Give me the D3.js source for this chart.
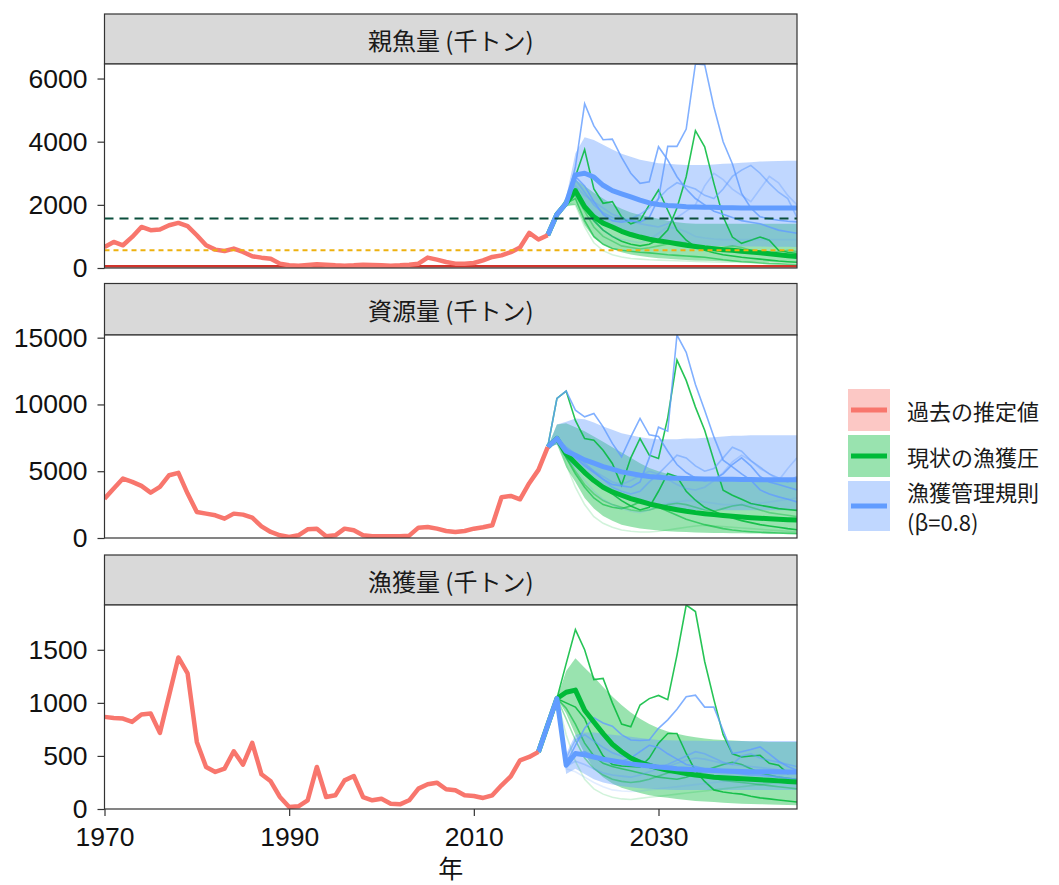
<!DOCTYPE html>
<html><head><meta charset="utf-8">
<script src="https://cdn.jsdelivr.net/npm/d3@7"></script>
<style>body{margin:0;background:#fff}svg{display:block}</style>
</head><body>
<svg id="chart" width="1059" height="885"></svg>
<script>
// ---------------- DATA ----------------
const xDomain = [1970, 2045];
const xTicks = [1970, 1990, 2010, 2030];
const panelTitles = ["親魚量 (千トン)", "資源量 (千トン)", "漁獲量 (千トン)"];
const yTicks1 = [0, 2000, 4000, 6000];
const yTicks2 = [0, 5000, 10000, 15000];
const yTicks3 = [0, 500, 1000, 1500];
const xTitle = "年";
const legendLabels = [["過去の推定値"], ["現状の漁獲圧"], ["漁獲管理規則", "(β=0.8)"]];

// reference levels for spawning biomass panel
const refTarget = 1570;   // dark green dashed
const refBan = 560;       // yellow dotted
const refLimit = 55;      // red solid

// history: SSB & biomass 1970-2018, catch 1970-2017
const ssbHist = [667,825,720,984,1300,1196,1217,1354,1428,1323,
  1037,720,582,540,614,508,370,328,296,138,
  85,74,95,116,106,85,74,85,106,95,
  85,74,85,106,138,330,265,190,138,138,
  159,243,349,400,500,650,1111,901,1038];
const bioHist = [2950,3700,4450,4200,3900,3400,3825,4700,4875,3325,
  1950,1825,1700,1450,1825,1750,1525,875,450,200,
  75,200,650,700,125,200,700,575,200,125,
  125,125,125,175,775,825,700,525,450,525,
  700,800,950,3050,3150,2900,4100,5100,6800];
const catchHist = [868,858,852,821,890,899,717,1072,1428,1277,
  632,396,349,380,544,418,623,327,261,113,
  19,25,82,396,113,129,270,311,113,82,
  97,50,44,82,192,233,248,186,176,129,
  123,104,129,223,308,459,490,538];

// projections: SSB & biomass 2018-2045, catch 2017-2045
const ssbRuleMed = [1038,1700,2050,2950,3000,2880,2620,2450,2350,2250,2150,2060,2010,1980,1960,1940,1930,1920,1920,1910,1910,1900,1900,1900,1900,1900,1900,1900];
const ssbRuleHi  = [1038,1700,2250,3630,4140,4050,3900,3750,3620,3520,3430,3370,3320,3300,3280,3260,3260,3260,3280,3300,3310,3330,3350,3370,3380,3390,3400,3400];
const ssbRuleLo  = [1038,1700,1950,2300,2000,1700,1420,1250,1100,1000,920,860,820,780,760,740,720,710,700,695,690,685,680,678,675,672,670,668];
const ssbCurMed  = [1038,1700,2050,2450,1940,1620,1420,1300,1160,1060,980,910,860,820,770,720,680,640,610,580,560,530,510,480,450,420,390,360];
const ssbCurHi   = [1038,1700,2250,2800,2600,2380,2200,2020,1880,1760,1680,1620,1560,1500,1450,1420,1400,1400,1400,1400,1400,1400,1400,1400,1400,1400,1400,1400];
const ssbCurLo   = [1038,1700,1950,2000,1350,950,740,600,500,430,380,340,310,290,270,255,240,230,220,210,200,195,190,185,180,175,170,165];
const ssbRuleSims = [
  [1038,1700,2050,3200,5200,4500,4060,4080,3500,3000,2680,2730,3840,3420,2890,2500,2200,2000,1800,1700,1600,1500,1450,1400,1300,1200,1150,1100],
  [1038,1700,2050,2900,2600,2100,1700,1500,1450,1500,1450,1600,2200,3850,3850,4400,6460,6440,5100,4000,3300,2360,1900,1620,1560,1510,1480,1460],
  [1038,1700,2050,2800,2400,2000,1750,1600,1500,1550,1700,1900,2200,2500,2700,2600,2500,2300,2200,2500,2900,3100,3250,3000,2680,2400,2200,1600],
  [1038,1700,2050,2600,2300,2100,1900,1700,1600,1500,1400,1350,1300,1400,1600,1800,2000,2600,3000,2800,2500,2300,2100,2500,2900,2700,2300,2000],
  [1038,1700,2050,2300,1900,1500,1200,1000,900,850,800,900,1100,1300,1250,1150,1000,950,920,900,900,900,900,900,900,900,900,900]];
const ssbCurSims = [
  [1038,1700,2050,2900,3750,2500,2050,2100,1620,1400,1500,2000,2470,1830,1200,880,670,560,480,420,380,340,310,280,250,220,200,180],
  [1038,1700,2050,2400,1900,1500,1200,1000,850,750,700,750,900,1200,1900,2890,4350,3840,2680,1620,980,780,880,980,880,560,500,460],
  [1038,1700,2050,2200,1500,1000,750,620,560,530,500,480,450,420,400,380,360,340,300,260,230,200,180,160,140,130,120,110],
  [1038,1700,2050,2300,1800,1300,1000,850,700,650,600,640,700,760,820,800,700,620,600,650,700,650,560,500,480,520,560,520],
  [1038,1700,2050,2000,1300,800,550,420,350,300,280,260,250,240,230,220,210,200,190,185,180,175,170,165,160,155,150,150]];

const bioRuleMed = [6800,7450,6500,6200,5850,5600,5350,5150,4950,4830,4700,4600,4550,4500,4470,4450,4430,4420,4410,4400,4390,4380,4380,4370,4370,4370,4370,4370];
const bioRuleHi  = [6800,8500,8700,8950,8900,8650,8350,8100,7850,7700,7550,7450,7400,7400,7400,7450,7450,7500,7550,7600,7650,7650,7700,7700,7700,7700,7700,7700];
const bioRuleLo  = [6800,7000,5900,5300,4700,4100,3700,3300,3000,2800,2600,2450,2300,2200,2150,2100,2100,2080,2080,2070,2070,2070,2070,2070,2070,2070,2070,2070];
const bioCurMed  = [6800,7450,6300,5600,4900,4300,3800,3450,3200,2950,2750,2550,2400,2250,2120,2000,1900,1820,1750,1680,1620,1570,1520,1480,1440,1400,1370,1340];
const bioCurHi   = [6800,8500,8600,8300,8000,7600,7200,6800,6400,6000,5600,5250,5000,4800,4650,4550,4470,4400,4350,4300,4270,4250,4230,4220,4210,4200,4200,4200];
const bioCurLo   = [6800,7000,5300,4200,3000,2200,1650,1300,1000,850,720,630,560,510,470,440,420,400,380,370,360,350,340,330,320,320,310,300];
const bioRuleSims = [
  [6800,10450,11000,9570,9070,9320,8320,7080,6080,7570,8950,7720,7600,6500,5500,4900,4500,4300,4400,4800,5500,6000,5400,4600,4200,4000,3800,3600],
  [6800,7450,6500,6000,5400,4900,4400,4000,3900,3800,4200,6000,8300,8000,15200,13900,11500,9570,7570,5830,5330,4800,4330,3600,3300,3080,2900,2700],
  [6800,7450,6800,6300,5600,5000,4400,3800,3500,3300,3500,4200,4800,5500,6200,6000,5400,5000,5200,6000,6800,6500,5800,5300,4800,4500,4200,4600],
  [6800,7450,6700,6100,5500,5000,4600,4200,4000,4300,4700,5000,4800,4400,4000,3700,3600,3800,4300,4900,5700,6200,5800,5200,4800,4300,5200,6000],
  [6800,7450,6200,5200,4300,3500,2900,2500,2200,2000,1900,2100,2400,2600,2700,2800,2800,2700,2600,2500,2500,2500,2500,2600,2700,2800,2900,3000]];
const bioCurSims = [
  [6800,10450,11000,8800,7450,7320,6570,5580,3950,6000,7450,6200,5950,9000,13320,11800,9800,8070,5800,3580,3200,2900,2580,2450,2330,2200,2130,2070],
  [6800,7450,6300,5600,5070,4400,3820,3300,2800,2400,2100,2300,3500,4830,4600,3500,2830,2300,2000,1700,1500,1300,1150,1000,900,800,700,620],
  [6800,7450,6000,4800,3800,3000,2500,2300,2200,2400,2700,2600,2300,2000,1700,1400,1200,1000,850,700,600,520,470,430,400,370,350,330],
  [6800,7450,6100,5000,4000,3300,2800,2500,2300,2100,2000,2100,2300,2500,2600,2500,2300,2100,2000,2200,2400,2500,2300,2100,1900,1800,1700,1600],
  [6800,7450,5500,3800,2500,1600,1100,800,600,500,450,450,500,600,700,800,900,950,900,850,800,750,700,650,600,550,500,450]];

const catchRuleMed = [538,790,1041,412,523,510,490,470,455,440,425,415,405,395,388,380,375,370,366,362,359,356,354,352,351,350,350,349,349];
const catchRuleHi  = [538,790,1041,520,700,720,720,710,700,690,680,670,660,650,648,645,643,642,641,640,640,640,640,640,640,640,640,640,640];
const catchRuleLo  = [538,790,1041,330,380,330,280,250,230,215,205,195,190,185,182,180,180,180,180,180,180,180,180,180,180,180,180,180,180];
const catchCurMed  = [538,790,1041,1100,1120,930,820,710,610,540,480,440,410,385,365,350,335,320,310,300,295,290,285,280,275,270,265,260,255];
const catchCurHi   = [538,790,1041,1300,1420,1330,1245,1150,1060,980,910,850,800,760,730,710,690,675,665,655,650,645,640,635,635,632,632,632,632];
const catchCurLo   = [538,790,1041,900,700,520,380,300,240,200,175,150,130,115,105,95,85,75,70,65,60,55,50,48,45,42,40,38,36];
const catchRuleSims = [
  [538,790,1041,430,600,760,860,810,780,700,650,645,650,760,840,940,1057,1072,960,960,740,523,540,560,585,520,450,400,365],
  [538,790,1041,470,520,540,500,480,460,450,480,540,600,580,520,470,420,400,380,360,350,340,330,320,320,310,300,290,280],
  [538,790,1041,480,650,700,640,580,530,500,480,460,430,400,420,460,500,540,520,480,440,420,500,520,480,460,440,420,400],
  [538,790,1041,400,450,420,380,340,320,310,300,320,350,380,400,430,460,480,470,450,430,420,410,400,390,380,370,360,350],
  [538,790,1041,380,350,300,250,210,180,170,165,170,180,190,200,210,220,230,240,250,260,270,280,290,300,310,320,330,340]];
const catchCurSims = [
  [538,790,1041,1370,1690,1500,1220,1230,1000,800,775,980,1040,1070,1030,1450,1922,1860,1390,1030,700,520,490,500,506,430,412,335,350],
  [538,790,1041,1000,960,850,650,500,420,405,400,396,480,620,711,711,523,360,260,180,160,148,140,120,105,95,85,75,66],
  [538,790,1041,950,800,620,500,430,400,380,360,340,320,300,290,280,300,330,360,390,420,440,420,380,340,320,300,290,280],
  [538,790,1041,850,650,480,380,320,280,260,250,260,280,310,340,360,350,330,310,290,270,260,250,240,230,220,210,200,190],
  [538,790,1041,700,450,280,190,140,110,95,90,100,110,120,130,140,150,160,170,180,190,200,210,220,230,240,250,260,270]];

// ---------------- STYLE / LAYOUT ----------------
const colHist = "#F8766D", colCur = "#00BA38", colRule = "#619CFF";
const ruleSimAlpha = [0.8, 0.8, 0.55, 0.35, 0.18];
const curSimAlpha = [0.85, 0.85, 0.6, 0.4, 0.18];
const xLeft = 104.5, xRight = 797;
const tickFont = "'Liberation Sans', Arial, sans-serif";
const cjkFont = "'Noto Sans CJK JP', 'Noto Sans', sans-serif";

const svg = d3.select("#chart");
const x = d3.scaleLinear().domain(xDomain).range([xLeft, xRight]);

const panels = [
  {title: panelTitles[0], stripTop: 14, top: 64, bottom: 268, ticks: yTicks1,
   hist: ssbHist, histStart: 1970, projStart: 2018,
   rule: {med: ssbRuleMed, hi: ssbRuleHi, lo: ssbRuleLo, sims: ssbRuleSims},
   cur: {med: ssbCurMed, hi: ssbCurHi, lo: ssbCurLo, sims: ssbCurSims}, refs: true},
  {title: panelTitles[1], stripTop: 283.5, top: 335, bottom: 538, ticks: yTicks2,
   hist: bioHist, histStart: 1970, projStart: 2018,
   rule: {med: bioRuleMed, hi: bioRuleHi, lo: bioRuleLo, sims: bioRuleSims},
   cur: {med: bioCurMed, hi: bioCurHi, lo: bioCurLo, sims: bioCurSims}},
  {title: panelTitles[2], stripTop: 555, top: 605, bottom: 809, ticks: yTicks3,
   hist: catchHist, histStart: 1970, projStart: 2017,
   rule: {med: catchRuleMed, hi: catchRuleHi, lo: catchRuleLo, sims: catchRuleSims},
   cur: {med: catchCurMed, hi: catchCurHi, lo: catchCurLo, sims: catchCurSims}, xAxis: true}
];

const defs = svg.append("defs");

panels.forEach((p, i) => {
  const all = [].concat(p.hist, p.rule.med, p.rule.hi, p.rule.lo, p.cur.med, p.cur.hi, p.cur.lo,
    ...p.rule.sims, ...p.cur.sims);
  const y = d3.scaleLinear().domain([0, d3.max(all)]).range([p.bottom, p.top]);
  const yr = (arr, start) => arr.map((v, k) => ({year: start + k, v}));
  const line = d3.line().x(d => x(d.year)).y(d => y(d.v));
  const area = d3.area().x(d => x(d.year)).y0(d => y(d.lo)).y1(d => y(d.hi));
  const band = (lo, hi) => lo.map((l, k) => ({year: p.projStart + k, lo: l, hi: hi[k]}));

  defs.append("clipPath").attr("id", "clip" + i).append("rect")
    .attr("x", xLeft).attr("y", p.top).attr("width", xRight - xLeft).attr("height", p.bottom - p.top);

  // strip
  svg.append("rect").attr("x", xLeft).attr("y", p.stripTop).attr("width", xRight - xLeft)
    .attr("height", p.top - p.stripTop).attr("fill", "#D9D9D9").attr("stroke", "#333").attr("stroke-width", 1.2);
  svg.append("text").attr("x", (xLeft + xRight) / 2).attr("y", (p.stripTop + p.top) / 2)
    .attr("text-anchor", "middle").attr("dominant-baseline", "central")
    .attr("font-family", cjkFont).attr("font-size", 24).attr("fill", "#1A1A1A").text(p.title);

  // panel background
  svg.append("rect").attr("x", xLeft).attr("y", p.top).attr("width", xRight - xLeft)
    .attr("height", p.bottom - p.top).attr("fill", "#fff");

  const g = svg.append("g").attr("clip-path", `url(#clip${i})`);

  // ribbons
  g.append("path").datum(band(p.cur.lo, p.cur.hi)).attr("d", area)
    .attr("fill", colCur).attr("fill-opacity", 0.4);
  g.append("path").datum(band(p.rule.lo, p.rule.hi)).attr("d", area)
    .attr("fill", colRule).attr("fill-opacity", 0.4);

  // reference limit line
  if (p.refs) {
    g.append("line").attr("x1", xLeft).attr("x2", xRight).attr("y1", y(refLimit)).attr("y2", y(refLimit))
      .attr("stroke", "#D0342C").attr("stroke-width", 2.5);
  }

  // simulation trajectories
  p.cur.sims.forEach((s, k) => g.append("path").datum(yr(s, p.projStart)).attr("d", line)
    .attr("fill", "none").attr("stroke", colCur).attr("stroke-opacity", curSimAlpha[k]).attr("stroke-width", 1.6));
  p.rule.sims.forEach((s, k) => g.append("path").datum(yr(s, p.projStart)).attr("d", line)
    .attr("fill", "none").attr("stroke", colRule).attr("stroke-opacity", ruleSimAlpha[k]).attr("stroke-width", 1.6));

  // medians
  g.append("path").datum(yr(p.cur.med, p.projStart)).attr("d", line)
    .attr("fill", "none").attr("stroke", colCur).attr("stroke-width", 5).attr("stroke-linejoin", "round");
  g.append("path").datum(yr(p.rule.med, p.projStart)).attr("d", line)
    .attr("fill", "none").attr("stroke", colRule).attr("stroke-width", 5).attr("stroke-linejoin", "round");

  // history
  g.append("path").datum(yr(p.hist, p.histStart)).attr("d", line)
    .attr("fill", "none").attr("stroke", colHist).attr("stroke-width", 4.5).attr("stroke-linejoin", "round");

  if (p.refs) {
    g.append("line").attr("x1", xLeft).attr("x2", xRight).attr("y1", y(refTarget)).attr("y2", y(refTarget))
      .attr("stroke", "#0B4F3C").attr("stroke-width", 2).attr("stroke-dasharray", "9,6");
    g.append("line").attr("x1", xLeft).attr("x2", xRight).attr("y1", y(refBan)).attr("y2", y(refBan))
      .attr("stroke", "#EDB10F").attr("stroke-width", 2).attr("stroke-dasharray", "5,4");
  }

  // border
  svg.append("rect").attr("x", xLeft).attr("y", p.top).attr("width", xRight - xLeft)
    .attr("height", p.bottom - p.top).attr("fill", "none").attr("stroke", "#333").attr("stroke-width", 1.2);

  // y axis
  const ya = svg.append("g").attr("transform", `translate(${xLeft},0)`)
    .call(d3.axisLeft(y).tickValues(p.ticks).tickFormat(d3.format("d")).tickSize(7).tickPadding(10));
  ya.select(".domain").remove();
  ya.selectAll("line").attr("stroke", "#333").attr("stroke-width", 1.2);
  ya.selectAll("text").attr("font-family", tickFont).attr("font-size", 26.5).attr("fill", "#111");

  if (p.xAxis) {
    const xa = svg.append("g").attr("transform", `translate(0,${p.bottom})`)
      .call(d3.axisBottom(x).tickValues(xTicks).tickFormat(d3.format("d")).tickSize(7).tickPadding(11));
    xa.select(".domain").remove();
    xa.selectAll("line").attr("stroke", "#333").attr("stroke-width", 1.2);
    xa.selectAll("text").attr("font-family", tickFont).attr("font-size", 26.5).attr("fill", "#111");
  }
});

// x title
svg.append("text").attr("x", (xLeft + xRight) / 2).attr("y", 867).attr("text-anchor", "middle")
  .attr("dominant-baseline", "central")
  .attr("font-family", cjkFont).attr("font-size", 25).attr("fill", "#111").text(xTitle);

// legend
const legCols = [colHist, colCur, colRule];
const legRows = [{y: 389, h: 42}, {y: 435, h: 42}, {y: 481, h: 50}];
legRows.forEach((r, k) => {
  svg.append("rect").attr("x", 848).attr("y", r.y).attr("width", 42).attr("height", r.h)
    .attr("fill", legCols[k]).attr("fill-opacity", 0.4);
  svg.append("line").attr("x1", 851).attr("x2", 887).attr("y1", r.y + r.h / 2).attr("y2", r.y + r.h / 2)
    .attr("stroke", legCols[k]).attr("stroke-width", 5);
  const lines = legendLabels[k];
  lines.forEach((s, j) => {
    svg.append("text").attr("x", 907)
      .attr("y", r.y + r.h / 2 + (j - (lines.length - 1) / 2) * 30)
      .attr("dominant-baseline", "central")
      .attr("font-family", cjkFont).attr("font-size", 22).attr("fill", "#1A1A1A").text(s);
  });
});
</script>
</body></html>
